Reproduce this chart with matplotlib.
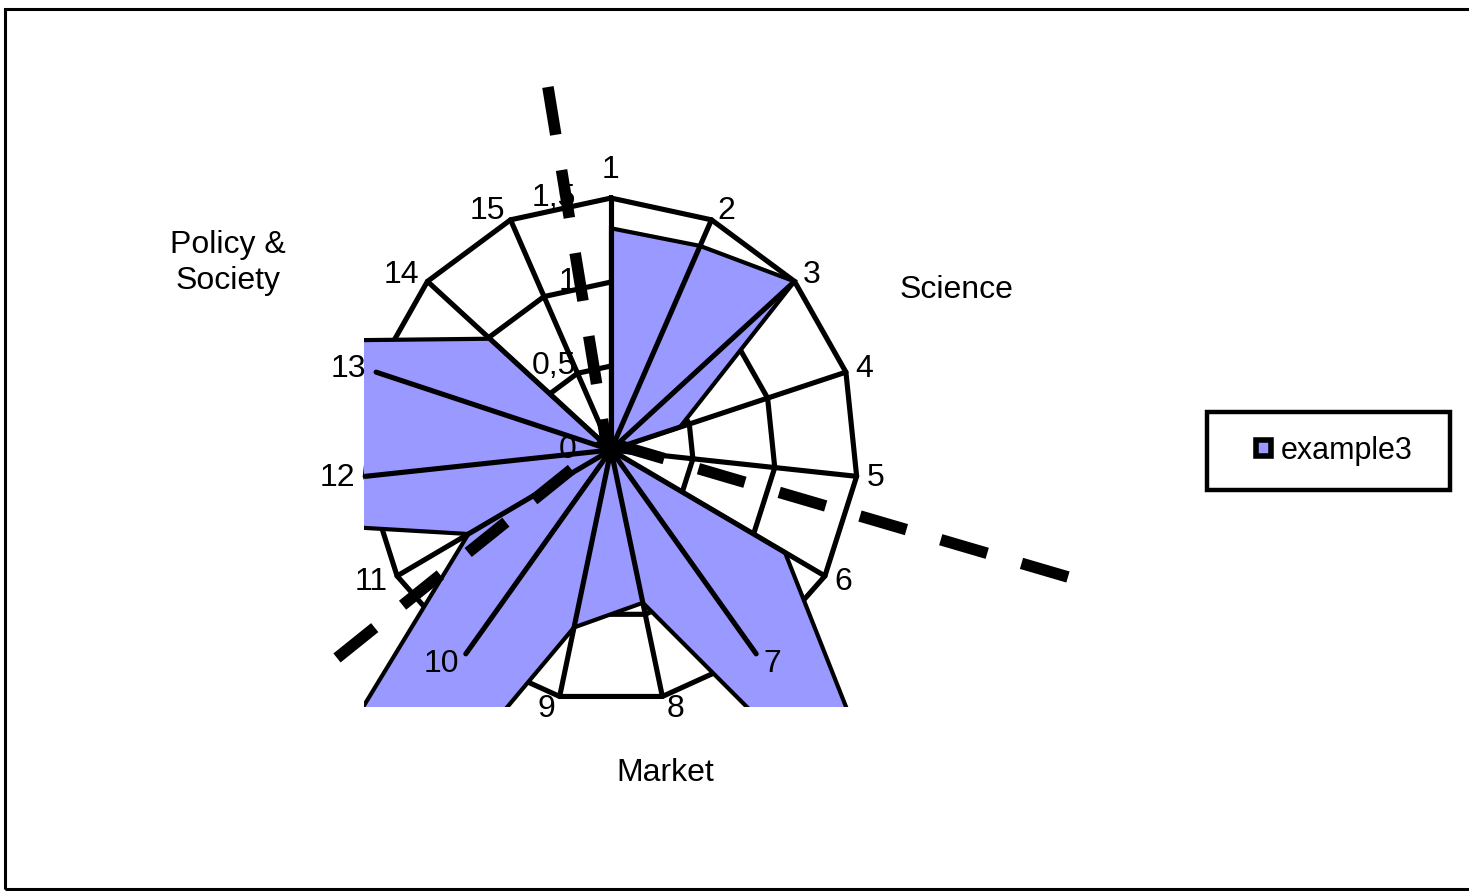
import numpy as np
import matplotlib
matplotlib.use("Agg")
import matplotlib.pyplot as plt
from matplotlib.patches import Patch, Rectangle

# ---------------- data ----------------
categories = ["1", "2", "3", "4", "5", "6", "7", "8", "9", "10", "11", "12", "13", "14", "15"]
example3 = [1.32, 1.33, 1.5, 0.44, 0.0, 1.22, 3.1, 0.93, 1.08, 6.5, 1.0, 3.4, 2.1, 0.99, 0.0]
ring_values = [0.5, 1.0, 1.5]
radial_tick_values = [0.0, 0.5, 1.0, 1.5]
radial_tick_labels = ["0", "0,5", "1", "1,5"]
series_name = "example3"
sector_labels = ["Policy &\nSociety", "Science", "Market"]

# ---------------- style ----------------
W, H = 1469, 891
FONT = "Liberation Sans"
FS = 23
FILL = "#9999FF"
plt.rcParams["font.family"] = [FONT, "DejaVu Sans"]

fig = plt.figure(figsize=(W / 100, H / 100), dpi=100)
fig.patch.set_facecolor("white")

# plot area (in pixels): x 364..858, y 193..707 ; centre (611, 450)
ax = fig.add_axes([364 / W, (H - 707) / H, (858 - 364) / W, (707 - 193) / H])
ax.set_xlim(-1.5, 1.5)
ax.set_ylim(-1.53, 1.53)
ax.axis("off")

n = len(categories)
theta = 2 * np.pi * np.arange(n) / n
s, c = np.sin(theta), np.cos(theta)

rmax = ring_values[-1]
# rings (behind the fill)
for r in ring_values:
    ax.plot(np.append(r * s, r * s[0]), np.append(r * c, r * c[0]),
            color="black", lw=3.7, zorder=1, clip_on=False, solid_joinstyle="miter")

# filled series
vals = np.array(example3)
ax.fill(vals * s, vals * c, facecolor=FILL, edgecolor="black", lw=3.0, zorder=2,
        joinstyle="miter")

# spokes (on top of fill)
for i in range(n):
    ax.plot([0, rmax * s[i]], [0, rmax * c[i]], color="black", lw=3.7, zorder=3,
            clip_on=False, solid_capstyle="round")

# radial value labels
for v, lab in zip(radial_tick_values, radial_tick_labels):
    ax.text(-0.2125, v, lab, ha="right", va="center", fontsize=FS, zorder=4,
            clip_on=False)

# category labels
for i, lab in enumerate(categories):
    x0, y0 = rmax * s[i], rmax * c[i]
    if i == 0:
        ax.annotate(lab, (x0, y0), xytext=(0, 13), textcoords="offset pixels",
                    ha="center", va="bottom", fontsize=FS, annotation_clip=False)
    else:
        sign = 1 if s[i] > 0 else -1
        dx = sign * (3 + 7 * abs(s[i]))
        dy = 10 * c[i] if c[i] > 0 else 13 * c[i]
        ax.annotate(lab, (x0, y0), xytext=(dx, dy), textcoords="offset pixels",
                    ha="left" if sign > 0 else "right", va="center",
                    fontsize=FS, annotation_clip=False)

# dashed sector dividers (drawn from outer end inwards)
divider_inner = (-0.03, 0.05)
divider_outer = [(-0.383, 2.161), (2.775, -0.756), (-1.664, -1.238)]
for (xo, yo) in divider_outer:
    ax.plot([xo, divider_inner[0]], [yo, divider_inner[1]], color="black",
            lw=8.3, linestyle=(0, (4.2, 3.1)), dash_capstyle="butt",
            zorder=5, clip_on=False)

# sector labels
fig.text(228 / W, 1 - 263 / H, sector_labels[0], ha="center", va="center",
         fontsize=FS, linespacing=1.25)
fig.text(956 / W, 1 - 290 / H, sector_labels[1], ha="center", va="center", fontsize=FS)
fig.text(665 / W, 1 - 773 / H, sector_labels[2], ha="center", va="center", fontsize=FS)

# legend
fig.patches.append(Rectangle((1207 / W, (H - 490) / H), 243 / W, 78 / H,
                             transform=fig.transFigure, fill=False,
                             edgecolor="black", lw=3.2, joinstyle="miter"))
fig.legend(handles=[Patch(facecolor=FILL, edgecolor="black", linewidth=4)],
           labels=[series_name], frameon=False, loc="center left",
           bbox_to_anchor=(1256 / W, 1 - 451 / H), handlelength=0.5,
           handleheight=0.4, handletextpad=0.3, borderpad=0, borderaxespad=0,
           fontsize=FS - 1)

# chart border
fig.patches.append(Rectangle((5 / W, (H - 888.5) / H), (1490 - 5) / W, (888.5 - 9) / H,
                             transform=fig.transFigure, fill=False,
                             edgecolor="black", lw=2.2, clip_on=False))

fig.savefig("out.png", dpi=100)
